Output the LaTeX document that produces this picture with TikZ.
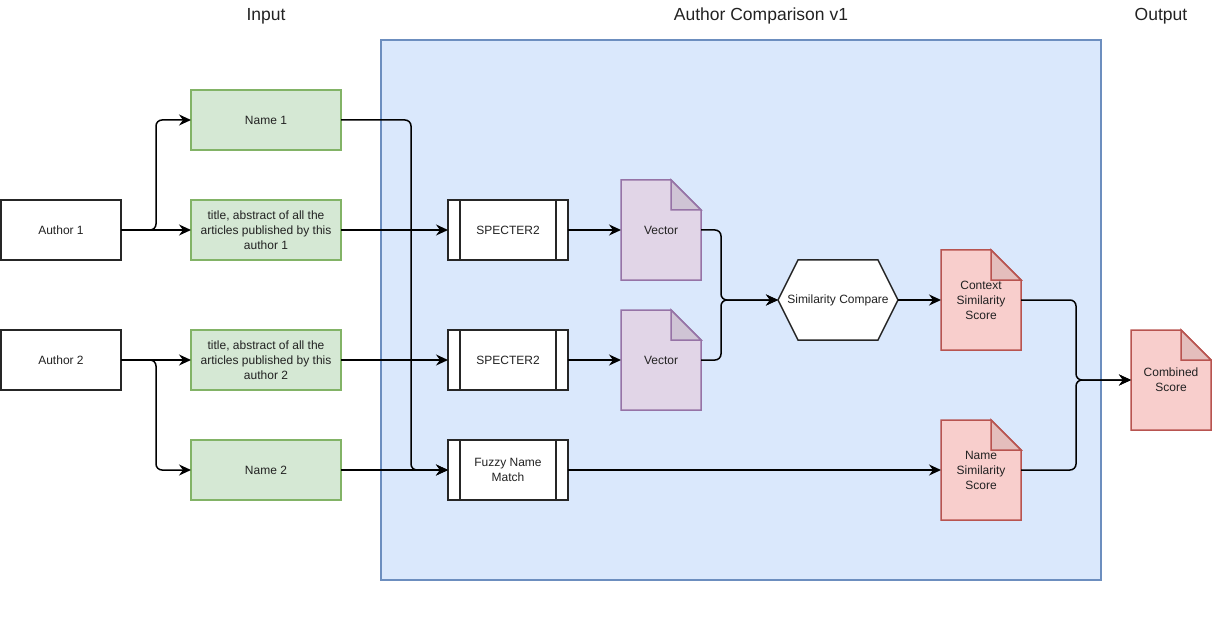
\documentclass[tikz,border=0pt]{standalone}
\usepackage{fontspec}
\setmainfont{Liberation Sans}
\usetikzlibrary{arrows.meta,calc}
\definecolor{gfill}{HTML}{D5E8D4}\definecolor{gline}{HTML}{82B366}
\definecolor{bfill}{HTML}{DAE8FC}\definecolor{bline}{HTML}{6C8EBF}
\definecolor{pfill}{HTML}{E1D5E7}\definecolor{pline}{HTML}{9673A6}
\definecolor{rfill}{HTML}{F8CECC}\definecolor{rline}{HTML}{B85450}
\definecolor{txt}{HTML}{222222}
\pgfdeclarelayer{bottom}\pgfdeclarelayer{back}
\pgfsetlayers{bottom,back,main}
\newcommand\docout[3]{%
 \begin{pgfonlayer}{back}
 \filldraw[fill=#2,draw=#3,line width=1.5pt] (#1.north west) -- ([xshift=-30pt]#1.north east) -- ([yshift=-30pt]#1.north east) -- (#1.south east) -- (#1.south west) -- cycle;
 \filldraw[fill=#2!92!black,draw=#3,line width=1.5pt] ([xshift=-30pt]#1.north east) -- ([yshift=-30pt]#1.north east) -- ([xshift=-30pt,yshift=-30pt]#1.north east) -- cycle;
 \end{pgfonlayer}}
\tikzset{
 bx/.style={rectangle, minimum width=120pt, minimum height=60pt, line width=1.5pt, inner sep=0pt, outer sep=0pt, align=center},
 plain/.style={bx, draw=black!85, fill=white},
 grn/.style={bx, draw=gline, fill=gfill, minimum width=150pt},
 docn/.style={rectangle, minimum width=80pt, minimum height=100pt, inner sep=0pt, outer sep=0pt, align=center},
 conn/.style={line width=1.5pt, rounded corners=6pt, -{Stealth[length=12pt,width=11pt,inset=4pt]}},
 ttl/.style={font=\fontsize{17.5}{17.5}\selectfont, text=txt}
}
\begin{document}
\begin{tikzpicture}[x=1pt,y=-1pt,font=\fontsize{12}{15}\selectfont,text=txt]
\useasboundingbox (0,0) rectangle (1212,620);
% container
\begin{pgfonlayer}{bottom}
\node[rectangle, draw=bline, fill=bfill, line width=1.5pt, minimum width=720pt, minimum height=540pt, inner sep=0pt, outer sep=0pt] (cont) at (741,310) {};
\end{pgfonlayer}
% titles
\node[ttl] (tin) at (266,16) {Input};
\node[ttl] (tac) at (761,16) {Author Comparison v1};
\node[ttl] (tout) at (1161,16) {Output};
% inputs
\node[plain] (a1) at (61,230) {Author 1};
\node[plain] (a2) at (61,360) {Author 2};
\node[grn] (n1) at (266,120) {Name 1};
\node[grn] (t1) at (266,230) {title, abstract of all the\\articles published by this\\author 1};
\node[grn] (t2) at (266,360) {title, abstract of all the\\articles published by this\\author 2};
\node[grn] (n2) at (266,470) {Name 2};
% processes
\node[plain] (s1) at (508,230) {SPECTER2};
\node[plain] (s2) at (508,360) {SPECTER2};
\node[plain] (fz) at (508,470) {Fuzzy Name\\Match};
\foreach \p in {s1,s2,fz}{
 \draw[line width=1.5pt,black!85] ([xshift=12pt]\p.north west) -- ([xshift=12pt]\p.south west);
 \draw[line width=1.5pt,black!85] ([xshift=-12pt]\p.north east) -- ([xshift=-12pt]\p.south east);
}
% documents
\node[docn] (v1) at (661,230) {Vector};
\node[docn] (v2) at (661,360) {Vector};
\node[docn] (cs) at (981,300) {Context\\Similarity\\Score};
\node[docn] (ns) at (981,470) {Name\\Similarity\\Score};
\node[docn] (cb) at (1171,380) {Combined\\Score};
\docout{v1}{pfill}{pline}
\docout{v2}{pfill}{pline}
\docout{cs}{rfill}{rline}
\docout{ns}{rfill}{rline}
\docout{cb}{rfill}{rline}
% hexagon
\node[rectangle, minimum width=120pt, minimum height=80pt, inner sep=0pt, outer sep=0pt] (hx) at (838,300) {Similarity Compare};
\begin{pgfonlayer}{back}
\filldraw[fill=white, draw=black!85, line width=1.5pt] (hx.west) -- ([xshift=20pt]hx.north west) -- ([xshift=-20pt]hx.north east) -- (hx.east) -- ([xshift=-20pt]hx.south east) -- ([xshift=20pt]hx.south west) -- cycle;
\end{pgfonlayer}
% connectors
\draw[conn] (a1.east) -- ++(35,0) |- (n1.west);
\draw[conn] (a1.east) -- (t1.west);
\draw[conn] (a2.east) -- (t2.west);
\draw[conn] (a2.east) -- ++(35,0) |- (n2.west);
\draw[conn] (n1.east) -- ++(70,0) |- (fz.west);
\draw[conn] (n2.east) -- (fz.west);
\draw[conn] (t1.east) -- (s1.west);
\draw[conn] (t2.east) -- (s2.west);
\draw[conn] (s1.east) -- (v1.west);
\draw[conn] (s2.east) -- (v2.west);
\draw[conn] (v1.east) -- ++(20,0) |- (hx.west);
\draw[conn] (v2.east) -- ++(20,0) |- (hx.west);
\draw[conn] (hx.east) -- (cs.west);
\draw[conn] (fz.east) -- (ns.west);
\draw[conn] (cs.east) -- ++(55,0) |- (cb.west);
\draw[conn] (ns.east) -- ++(55,0) |- (cb.west);
\end{tikzpicture}
\end{document}
